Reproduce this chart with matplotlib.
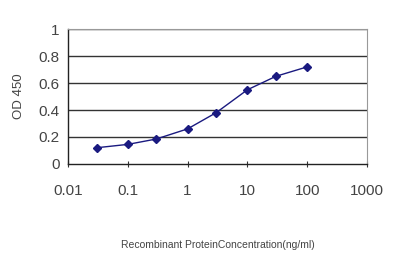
import matplotlib
matplotlib.use("Agg")
import matplotlib.pyplot as plt
from matplotlib.ticker import FixedLocator, NullLocator

concentration = [0.03, 0.1, 0.3, 1, 3, 10, 30, 100]
od450 = [0.12, 0.145, 0.185, 0.26, 0.38, 0.55, 0.65, 0.72]
x_ticks = [0.01, 0.1, 1, 10, 100, 1000]
x_tick_labels = ["0.01", "0.1", "1", "10", "100", "1000"]
y_ticks = [0, 0.2, 0.4, 0.6, 0.8, 1]
y_tick_labels = ["0", "0.2", "0.4", "0.6", "0.8", "1"]

plt.rcParams['font.family'] = ['Liberation Sans', 'DejaVu Sans']

fig = plt.figure(figsize=(4, 2.67), dpi=100)
ax = fig.add_axes([0.17, 0.386, 0.7475, 0.505])
ax.set_xscale('log')
ax.set_xlim(0.01, 1000)
ax.set_ylim(0, 1)

for y in y_ticks[1:]:
    ax.axhline(y, color='#333333', lw=1.0, zorder=1)

ax.plot(concentration, od450, color='#1a1a80', lw=1.0, marker='D', ms=4,
        markerfacecolor='#1a1a80', markeredgecolor='#1a1a80', zorder=3)

ax.xaxis.set_major_locator(FixedLocator(x_ticks))
ax.xaxis.set_minor_locator(NullLocator())
ax.set_xticks(x_ticks)
ax.set_xticklabels(x_tick_labels)
ax.set_yticks(y_ticks)
ax.set_yticklabels(y_tick_labels)
ax.tick_params(axis='x', direction='inout', length=5, width=0.8, pad=12,
               labelsize=11, colors='#333333', labelcolor='#444444')
ax.tick_params(axis='y', length=0, pad=6, labelsize=11, labelcolor='#444444')

for side in ['left', 'bottom']:
    ax.spines[side].set_color('#222222')
    ax.spines[side].set_linewidth(1.0)
for side in ['top', 'right']:
    ax.spines[side].set_color('#999999')
    ax.spines[side].set_linewidth(0.8)

ax.set_ylabel("OD 450", fontsize=9.5, color='#444444', labelpad=10)
ax.set_xlabel("Recombinant ProteinConcentration(ng/ml)", fontsize=7.5,
              color='#444444', labelpad=30)

fig.savefig("out.png", dpi=100, facecolor='white')
